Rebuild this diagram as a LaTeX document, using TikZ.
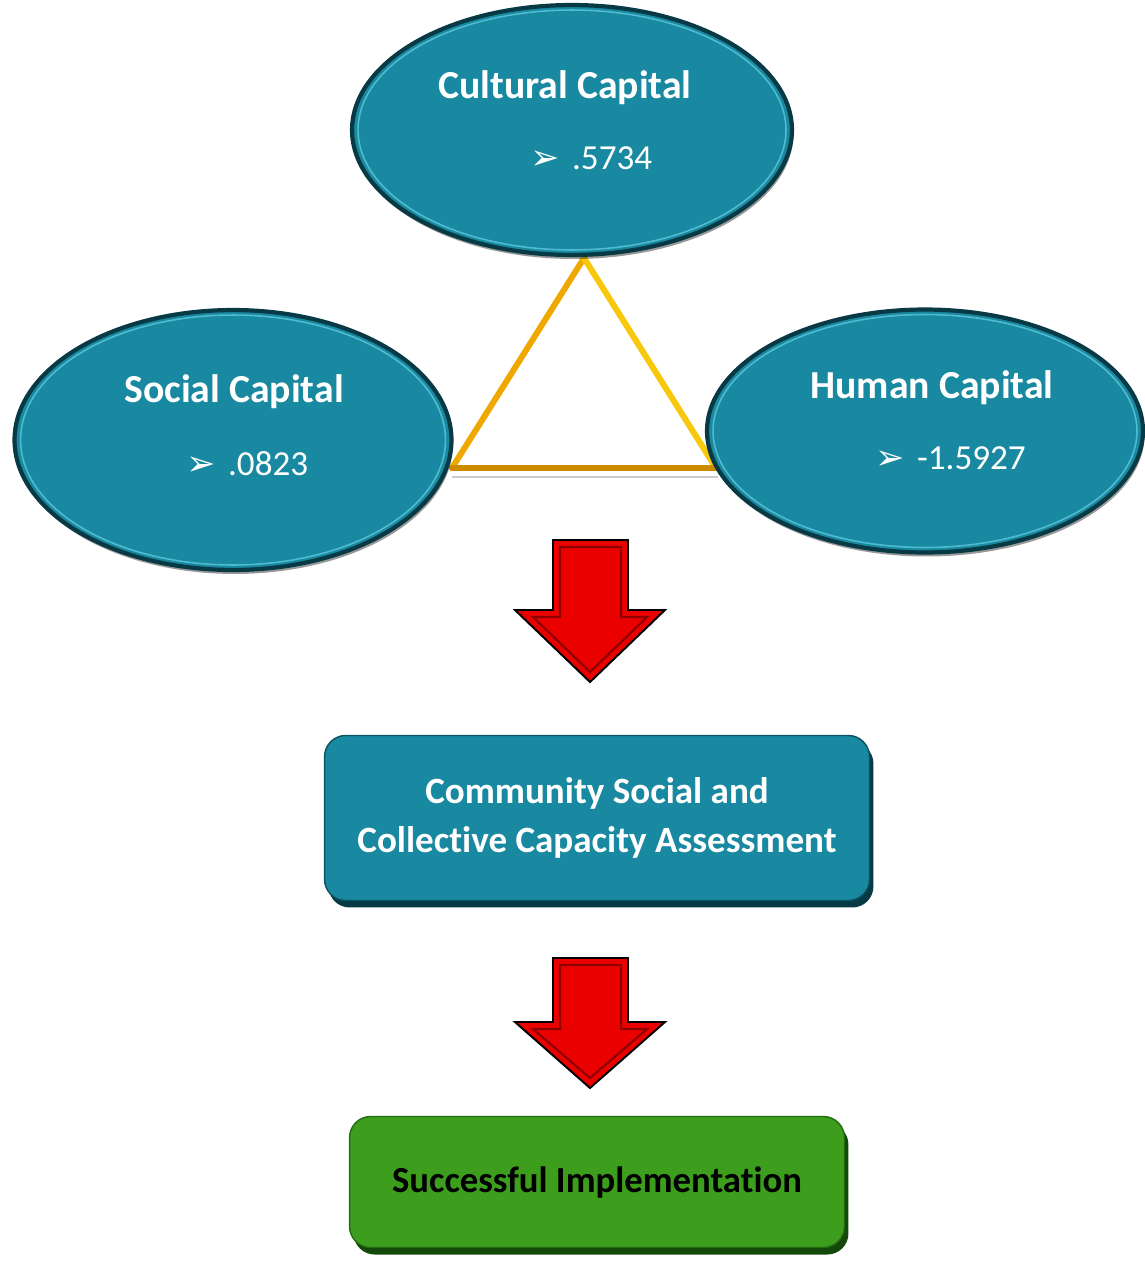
\documentclass[tikz,border=0pt]{standalone}
\usepackage{fontspec}
\setmainfont[Ligatures={NoCommon}, Contextuals={NoAlternate}, RawFeature={-clig}]{Carlito}
\newfontfamily\dejavu{DejaVu Sans}
\usetikzlibrary{shapes.geometric,shadows}
\definecolor{teal1}{RGB}{24,137,160}
\definecolor{tealdark}{RGB}{8,58,70}
\definecolor{teallight}{RGB}{95,200,220}
\definecolor{grn}{RGB}{60,158,28}
\definecolor{grndark}{RGB}{20,72,10}
\definecolor{goldL}{RGB}{238,168,0}
\definecolor{goldR}{RGB}{248,200,12}
\definecolor{goldB}{RGB}{205,140,0}
\definecolor{arrred}{RGB}{235,0,0}
\definecolor{arrdark}{RGB}{140,0,0}
\tikzset{
  capell/.style={ellipse, draw=tealdark, line width=2.4pt, fill=teal1, inner sep=0pt,
    drop shadow={shadow xshift=0.03cm, shadow yshift=-0.08cm, fill=black, opacity=0.4}},
  rim/.style={draw=teallight, line width=0.9pt, opacity=0.8},
  captitle/.style={text=white, font=\fontsize{22.6}{27}\selectfont\bfseries, inner sep=0pt},
  capval/.style={text=white, font=\fontsize{20}{24}\selectfont, inner sep=0pt, anchor=west},
  tealbox/.style={rectangle, rounded corners=12pt, fill=teal1, draw=tealdark!70!teal1, line width=0.8pt,
    text=white, align=center, font=\fontsize{21.1}{27.5}\selectfont\bfseries,
    drop shadow={shadow xshift=0.08cm, shadow yshift=-0.14cm, fill=tealdark, opacity=1}},
  greenbox/.style={rectangle, rounded corners=12pt, fill=grn, draw=grndark!60!grn, line width=0.8pt,
    text=black, align=center, font=\fontsize{20.9}{27.5}\selectfont\bfseries,
    drop shadow={shadow xshift=0.08cm, shadow yshift=-0.14cm, fill=grndark, opacity=1}},
  blockarrow/.style={fill=arrred, draw=black, line width=1.1pt, line join=miter},
  bevel/.style={draw=arrdark, line width=1.2pt, line join=miter},
  tri/.style={line width=3.4pt, line cap=round}
}
\newcommand{\pointer}{{\dejavu\fontsize{20}{24}\selectfont ➢}\hspace{0.35em}}
\begin{document}
\begin{tikzpicture}[x=0.02cm,y=-0.02cm]
\useasboundingbox[fill=white] (0,0) rectangle (1144,1261);

% triangle
\draw[gray!40, line width=1.5pt] (452,477) -- (718,477);
\draw[tri, goldL] (452,468) -- (584,258);
\draw[tri, goldR] (584,258) -- (716,468);
\draw[tri, goldB] (452,468) -- (716,468);

% ellipses
\node[capell, minimum width=8.8cm, minimum height=5cm] (cult) at (572,130) {};
\draw[rim] (cult.center) ellipse [x radius=4.28cm, y radius=2.4cm];
\node[capell, minimum width=8.74cm, minimum height=5.2cm] (soc) at (233,440) {};
\draw[rim] (soc.center) ellipse [x radius=4.25cm, y radius=2.5cm];
\node[capell, minimum width=8.72cm, minimum height=4.86cm] (hum) at (925,431) {};
\draw[rim] (hum.center) ellipse [x radius=4.24cm, y radius=2.33cm];

\node[captitle] (cultT) at (565,88) {Cultural Capital};
\node[capval] (cultV) at (530,158) {\pointer .5734};
\node[captitle] (socT) at (234,392) {Social Capital};
\node[capval] (socV) at (186,464) {\pointer .0823};
\node[captitle] (humT) at (932,388) {Human Capital};
\node[capval] (humV) at (875,458) {\pointer -1.5927};

% boxes
\node[tealbox, minimum width=10.9cm, minimum height=3.3cm] (cap) at (597,818)
  {Community Social and\\Collective Capacity Assessment};
\node[greenbox, minimum width=9.9cm, minimum height=2.62cm] (succ) at (597,1182)
  {Successful Implementation};

% block arrows
\draw[blockarrow] (553,540) -- (628,540) -- (628,610) -- (665,610) -- (590,682) -- (515,610) -- (553,610) -- cycle;
\draw[bevel] (560,547) -- (621,547) -- (621,617) -- (647,617) -- (590,672) -- (533,617) -- (560,617) -- cycle;
\draw[blockarrow] (553,958) -- (628,958) -- (628,1022) -- (665,1022) -- (590,1088) -- (515,1022) -- (553,1022) -- cycle;
\draw[bevel] (560,965) -- (621,965) -- (621,1029) -- (647,1029) -- (590,1078) -- (533,1029) -- (560,1029) -- cycle;
\end{tikzpicture}
\end{document}
